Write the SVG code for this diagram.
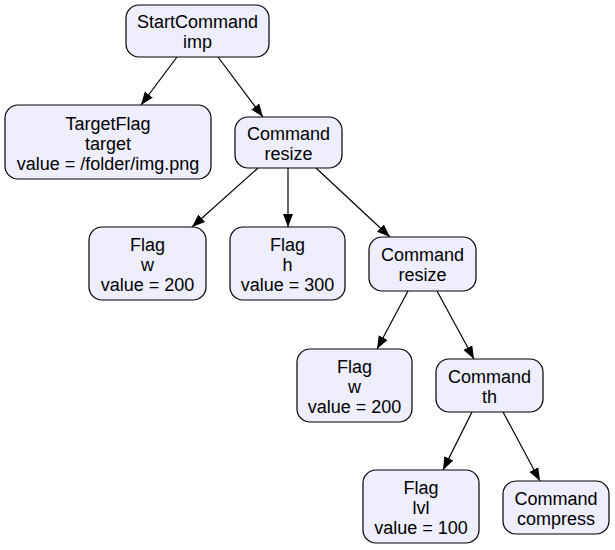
<svg xmlns="http://www.w3.org/2000/svg" width="615" height="550" viewBox="0 0 615 550">
<defs>
<marker id="arr" markerUnits="userSpaceOnUse" markerWidth="14" markerHeight="12" refX="13" refY="6" orient="auto">
<path d="M0,1 L13,6 L0,11 Z" fill="#000"/>
</marker>
<style>
.n rect{fill:#eeeeff;stroke:#000;stroke-width:1.2}
.n text{font-family:"Liberation Sans",Arial,sans-serif;font-size:18px;text-anchor:middle;fill:#000}
.e line{stroke:#000;stroke-width:1.2;marker-end:url(#arr)}
</style>
</defs>
<rect width="615" height="550" fill="#fff"/>
<g class="e" id="edges">
<line x1="177" y1="57" x2="141" y2="105"/>
<line x1="218" y1="57" x2="263" y2="117"/>
<line x1="258" y1="168" x2="192" y2="227"/>
<line x1="288" y1="168" x2="288" y2="227"/>
<line x1="316" y1="168" x2="390" y2="237"/>
<line x1="408" y1="291" x2="377" y2="349"/>
<line x1="437" y1="291" x2="474" y2="359"/>
<line x1="472" y1="412" x2="443" y2="470"/>
<line x1="503" y1="412" x2="540" y2="481"/>
</g>
<g class="n" id="startcommand"><rect x="126" y="5" width="143" height="52" rx="13"/><text x="197.5" y="28">StartCommand</text><text x="197.5" y="48">imp</text></g>
<g class="n" id="targetflag"><rect x="5" y="105" width="206" height="74" rx="13"/><text x="108" y="130">TargetFlag</text><text x="108" y="150">target</text><text x="108" y="170">value = /folder/img.png</text></g>
<g class="n" id="resize1"><rect x="235" y="117" width="107" height="51" rx="13"/><text x="288.5" y="140">Command</text><text x="288.5" y="160">resize</text></g>
<g class="n" id="flagw"><rect x="89" y="227" width="117" height="73" rx="13"/><text x="147.5" y="251">Flag</text><text x="147.5" y="271">w</text><text x="147.5" y="291">value = 200</text></g>
<g class="n" id="flagh"><rect x="230" y="227" width="115" height="73" rx="13"/><text x="287.5" y="251">Flag</text><text x="287.5" y="271">h</text><text x="287.5" y="291">value = 300</text></g>
<g class="n" id="resize2"><rect x="369" y="237" width="107" height="54" rx="13"/><text x="422.5" y="261">Command</text><text x="422.5" y="281">resize</text></g>
<g class="n" id="flagw2"><rect x="297" y="349" width="115" height="73" rx="13"/><text x="354.5" y="373">Flag</text><text x="354.5" y="393">w</text><text x="354.5" y="413">value = 200</text></g>
<g class="n" id="th"><rect x="436" y="359" width="107" height="53" rx="13"/><text x="489.5" y="383">Command</text><text x="489.5" y="403">th</text></g>
<g class="n" id="flaglvl"><rect x="363" y="470" width="116" height="73" rx="13"/><text x="421" y="494">Flag</text><text x="421" y="514">lvl</text><text x="421" y="534">value = 100</text></g>
<g class="n" id="compress"><rect x="503" y="481" width="106" height="53" rx="13"/><text x="556" y="505">Command</text><text x="556" y="525">compress</text></g>
</svg>
